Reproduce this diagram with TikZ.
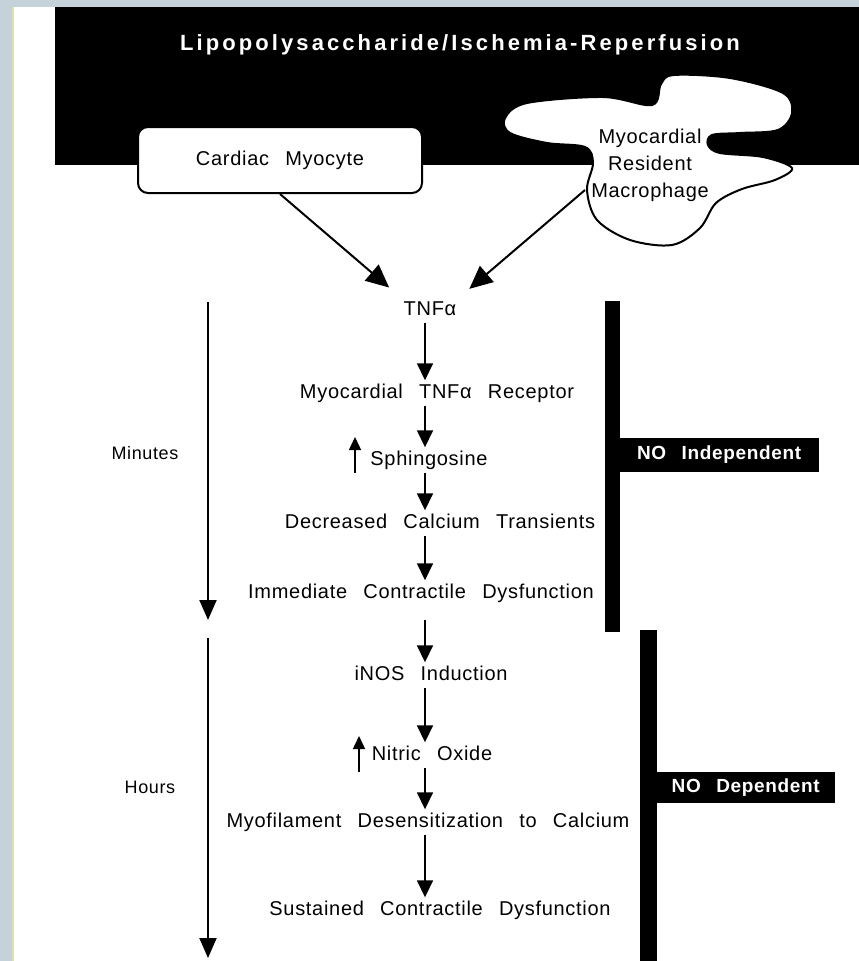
\documentclass[tikz,border=0pt]{standalone}
\usepackage{fontspec}
\setmainfont{Liberation Sans}[WordSpace=2.6,LetterSpace=3.5]
\newfontfamily\titlefont{Liberation Sans}[LetterSpace=14,WordSpace=1]
\usetikzlibrary{positioning, arrows.meta}
\definecolor{framegray}{HTML}{C6D2DA}
\definecolor{framelime}{HTML}{D6E6A4}

\begin{document}
\begin{tikzpicture}[x=1pt,y=-1pt,
  stage/.style={font=\fontsize{20}{24}\selectfont, inner sep=3pt, text height=14.5pt, text depth=4.5pt},
  flow/.style={line width=1.6pt, -{Triangle[length=17pt,width=16pt]}},
  feed/.style={line width=2pt, -{Triangle[length=23pt,width=21pt]}},
  timeline/.style={line width=2pt, -{Triangle[length=20pt,width=17pt]}},
  rise/.style={line width=1.5pt, -{Triangle[length=13pt,width=12pt]}},
  cellbox/.style={draw, line width=2pt, fill=white, rounded corners=10pt, font=\fontsize{20}{24}\selectfont},
  nobox/.style={fill=black, text=white, font=\fontsize{19}{23}\selectfont\bfseries, inner sep=0pt, anchor=west},
  timetext/.style={font=\fontsize{18}{21}\selectfont}]
\useasboundingbox (0,0) rectangle (859,961);
%%Frame and header band
\fill[framegray] (0,0) rectangle (859,961);
\fill[white] (14,7) rectangle (859,961);
\fill[framelime] (12,7) rectangle (14,961);
\fill[black] (55,7) rectangle (859,165);
\node (title) at (460,45) {\titlefont\bfseries\fontsize{22}{26}\selectfont\color{white}Lipopolysaccharide/Ischemia-Reperfusion};
%%The macrophage outline
\draw[line width=2pt, fill=white] plot[smooth cycle, tension=0.55] coordinates {
  (505,118) (527,103) (603,97) (652,105) (661,84) (674,75) (730,78) (783,93)
  (792,113) (778,130) (740,133) (712,135) (708,145) (720,153) (763,157) (792,168)
  (775,180) (742,189) (716,203) (700,228) (672,245) (630,240) (597,220) (587,190)
  (593,163) (585,147) (547,143) (510,133)};
%%First place the nodes
\node (cm) [cellbox, minimum width=284pt, minimum height=66pt] at (280,160) {Cardiac Myocyte};
\node (mac) [align=center, font=\fontsize{20}{27}\selectfont] at (650,165) {Myocardial\\Resident\\Macrophage};
\coordinate (macout) at (585,190);
\node (tnf) [stage] at (430,310) {TNFα};
\node (rec) [stage] at (437,393) {Myocardial TNFα Receptor};
\node (sph) [stage] at (429,460) {Sphingosine};
\node (cal) [stage] at (440,523) {Decreased Calcium Transients};
\node (imm) [stage] at (421,593) {Immediate Contractile Dysfunction};
\node (inos) [stage] at (431,675) {iNOS Induction};
\node (nox) [stage] at (432,755) {Nitric Oxide};
\node (myo) [stage] at (428,822) {Myofilament Desensitization to Calcium};
\node (sus) [stage] at (440,910) {Sustained Contractile Dysfunction};
\coordinate (axis) at (425,0);
\node (min) [timetext] at (145,453) {Minutes};
\node (hrs) [timetext] at (150,787) {Hours};
\coordinate (min0) at (208,302);
\coordinate (min1) at (208,620);
\coordinate (hrs0) at (208,638);
\coordinate (hrs1) at (208,958);
\coordinate (sphup0) at (355,473);
\coordinate (sphup1) at (355,437);
\coordinate (noup0) at (359,772);
\coordinate (noup1) at (359,736);
%%The two black bars
\fill (605,301) rectangle (620,632);
\node (indep) [nobox, minimum width=200pt, minimum height=34pt] at (619,455) {NO Independent};
\fill (640,630) rectangle (657,961);
\node (dep) [nobox, minimum width=179pt, minimum height=31pt] at (656,787.5) {NO Dependent};
%%Draw the arrows
\path[feed]
(cm.south) edge[shorten >=15pt] (tnf.north west)
(macout) edge[shorten >=13pt] (tnf.north east);
\path[flow]
(tnf.south -| axis) edge (rec.north -| axis)
(rec.south -| axis) edge (sph.north -| axis)
(sph.south -| axis) edge (cal.north -| axis)
(cal.south -| axis) edge (imm.north -| axis)
(imm.south -| axis) edge[shorten <=14pt] (inos.north -| axis)
(inos.south -| axis) edge (nox.north -| axis)
(nox.south -| axis) edge (myo.north -| axis)
(myo.south -| axis) edge (sus.north -| axis);
\path[rise]
(sphup0) edge (sphup1)
(noup0) edge (noup1);
\path[timeline]
(min0) edge (min1)
(hrs0) edge (hrs1);
\end{tikzpicture}
\end{document}
